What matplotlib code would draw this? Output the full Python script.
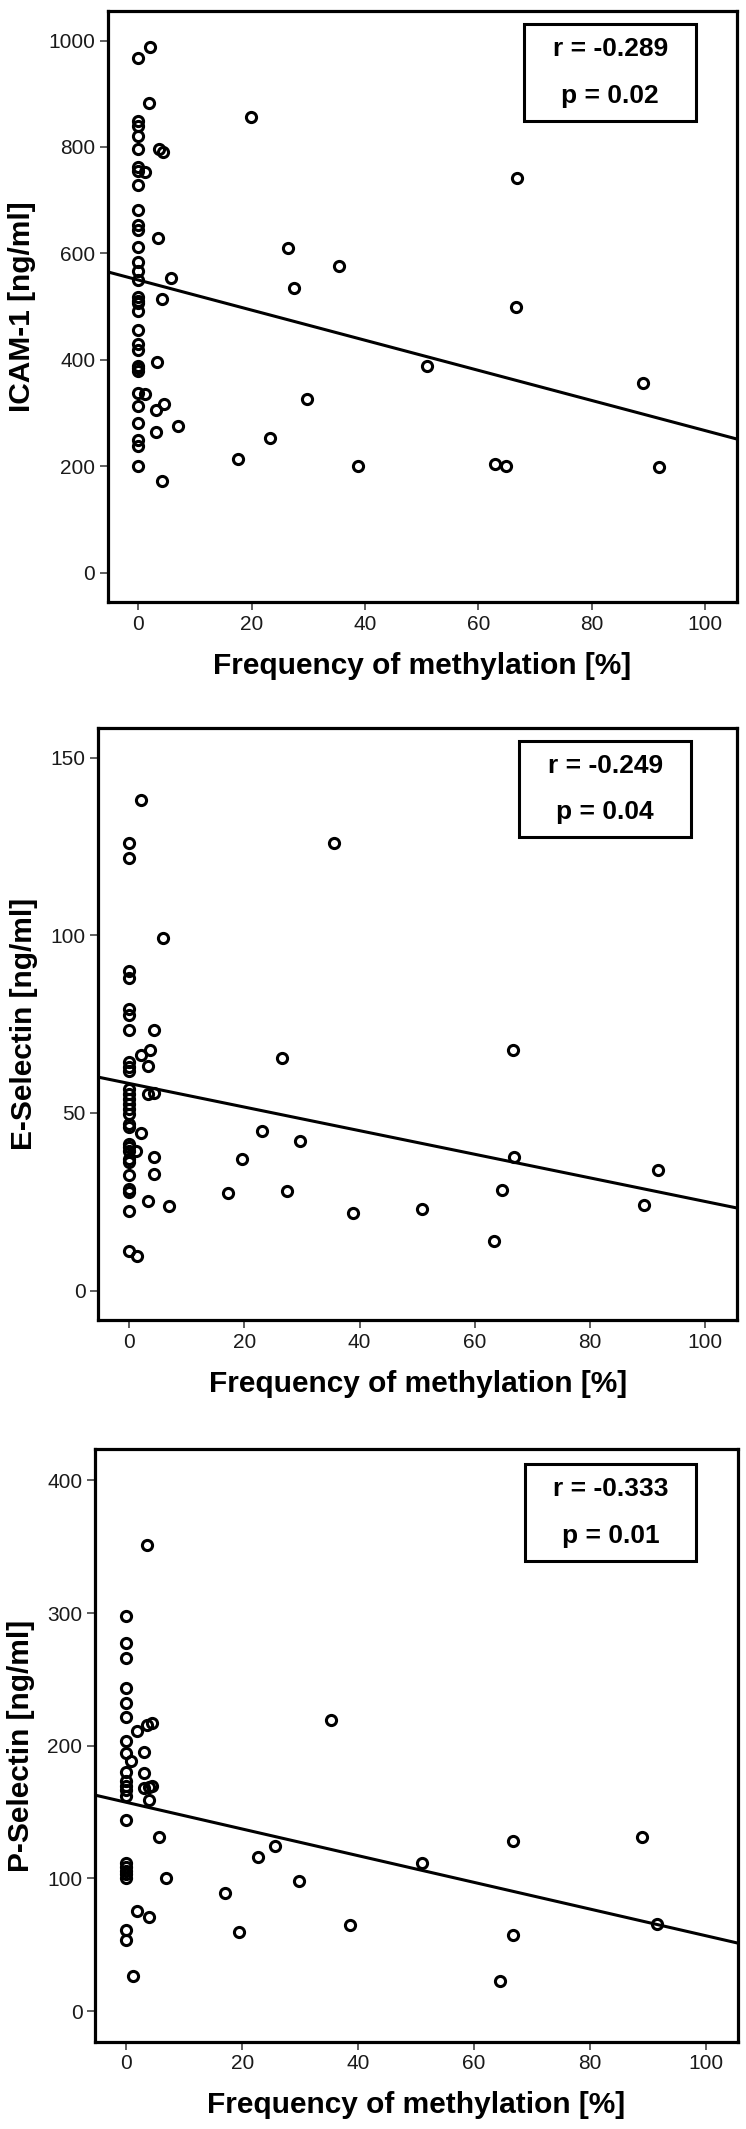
import numpy as np
import matplotlib
matplotlib.use('Agg')
import matplotlib.pyplot as plt
from matplotlib.patches import Rectangle

plt.rcParams['font.family'] = ['Liberation Sans', 'DejaVu Sans']

# ---- data ----
xlabel = 'Frequency of methylation [%]'
xticks = [0, 20, 40, 60, 80, 100]

icam_x = [0, 2.0, 1.9, 19.8, 0, 0, 0, 0, 3.6, 4.3, 0, 0, 1.2, 0, 0, 0, 0, 3.4, 0, 0,
          0, 0, 5.7, 0, 0, 0, 4.2, 0, 0, 0, 3.3, 0, 0, 0, 1.2, 0, 3.1, 4.6, 0, 7.0,
          3.1, 0, 0, 0, 4.2, 17.5, 23.2, 26.4, 35.4, 27.4, 29.8, 38.7, 51.0, 63.0, 64.8,
          66.8, 66.6, 89.1, 91.8, 0, 0]
icam_y = [967, 987, 883, 857, 849, 840, 821, 796, 797, 790, 763, 754, 753, 728, 682, 654,
          644, 629, 612, 583, 566, 550, 553, 518, 507, 492, 514, 457, 429, 419, 396, 389,
          379, 338, 335, 313, 305, 317, 281, 276, 265, 249, 238, 200, 173, 213, 254, 610,
          576, 535, 327, 200, 388, 205, 200, 742, 500, 356, 198, 510, 384]
icam_fit = (550, -2.83)   # intercept, slope
icam_stats = ['r = -0.289', 'p = 0.02']

esel_x = [0, 0, 2.1, 35.5, 5.8, 0, 0, 0, 0, 0, 4.2, 2.0, 3.6, 3.3, 0, 0, 0, 26.5, 0, 0,
          0, 0, 0, 0, 0, 0, 3.2, 4.3, 2.0, 23.0, 0, 0, 0, 0, 1.2, 4.3, 4.3, 19.5, 0, 0,
          0, 17.2, 3.2, 6.9, 0, 0, 1.3, 29.7, 27.4, 38.8, 50.9, 63.3, 64.8, 66.7, 66.8,
          89.4, 91.9, 0]
esel_y = [126.1, 121.7, 138, 126.1, 99.3, 90.1, 88.1, 79.3, 77.5, 73.4, 73.4, 66.4, 67.6,
          63.2, 64.3, 62.9, 61.8, 65.4, 56.8, 55.4, 54.0, 52.6, 51.2, 49.8, 46.9, 46.0,
          55.4, 55.6, 44.3, 45.0, 41.3, 39.4, 37.1, 36.2, 39.4, 37.6, 32.9, 37.1, 32.4,
          28.6, 27.7, 27.4, 25.2, 23.7, 22.3, 11.1, 9.6, 42.2, 28.1, 21.7, 23.0, 14.0,
          28.4, 67.7, 37.6, 24.0, 33.9, 40.5]
esel_fit = (58.3, -0.332)
esel_stats = ['r = -0.249', 'p = 0.04']

psel_x = [0, 0, 0, 0, 0, 0, 1.9, 3.6, 4.5, 0, 0, 0.9, 3.1, 0, 0, 0, 0, 0, 3.1, 3.1,
          4.0, 4.5, 4.0, 0, 5.6, 0, 0, 0, 0, 0, 6.9, 1.9, 4.0, 0, 0, 1.1, 17.1, 19.4,
          22.8, 25.7, 3.5, 35.4, 29.8, 38.7, 51.0, 64.6, 66.7, 66.8, 89.1, 91.6]
psel_y = [297.5, 277.5, 265.8, 243.8, 232.5, 222, 211, 215.8, 217.5, 203.8, 194.3, 188.8,
          195, 180, 173.8, 170, 166.3, 162.5, 179.3, 168, 168.8, 170, 159.3, 144.3, 131.3,
          112, 109, 106, 103, 100, 100, 75.5, 71.3, 60.8, 53.8, 26.8, 89.3, 60, 116.3,
          124.3, 351, 219.3, 98.3, 65.2, 111.6, 22.7, 128, 57.5, 131.5, 65.9]
psel_fit = (157.4, -1.005)
psel_stats = ['r = -0.333', 'p = 0.01']

W, H = 746.0, 2129.0

def add_panel(fig, box, xs, ys, fit, stats, ylabel, ylim, yticks, statbox):
	left, right, top, bottom = box
	ax = fig.add_axes([left / W, 1 - bottom / H, (right - left) / W, (bottom - top) / H])
	ax.plot(xs, ys, 'o', ls='none', mfc='none', mec='black', ms=7.3, mew=2.2)
	xlim = (-5.4, 105.6)
	xx = np.array(xlim)
	ax.plot(xx, fit[0] + fit[1] * xx, color='black', lw=2.2)
	ax.set_xlim(xlim)
	ax.set_ylim(ylim)
	ax.set_xticks(xticks)
	ax.set_yticks(yticks)
	for s in ax.spines.values():
		s.set_linewidth(2.3)
	ax.tick_params(direction='out', length=6, width=1.1, color='#333333',
	               labelsize=15, labelcolor='#1a1a1a', pad=3)
	ax.set_xlabel(xlabel, fontsize=21.5, fontweight='bold', labelpad=13)
	ax.set_ylabel(ylabel, fontsize=21.5, fontweight='bold', labelpad=9)
	# r / p box
	bx0, bx1, by0, by1 = statbox
	ax.add_patch(Rectangle((bx0, by0), bx1 - bx0, by1 - by0, transform=ax.transAxes,
	                       fill=False, lw=2.2, ec='black', zorder=5))
	cx = (bx0 + bx1) / 2
	ax.text(cx, by1 - 0.042, stats[0], transform=ax.transAxes, ha='center', va='center',
	        fontsize=19, fontweight='bold')
	ax.text(cx, by0 + 0.042, stats[1], transform=ax.transAxes, ha='center', va='center',
	        fontsize=19, fontweight='bold')
	return ax

fig = plt.figure(figsize=(W / 100, H / 100), dpi=100)

add_panel(fig, (107.7, 737, 10.7, 602), icam_x, icam_y, icam_fit, icam_stats,
          'ICAM-1 [ng/ml]', (-55, 1056), [0, 200, 400, 600, 800, 1000],
          (0.662, 0.935, 0.814, 0.977))
add_panel(fig, (98.3, 737, 727.7, 1320), esel_x, esel_y, esel_fit, esel_stats,
          'E-Selectin [ng/ml]', (-8.3, 158.5), [0, 50, 100, 150],
          (0.659, 0.928, 0.815, 0.977))
add_panel(fig, (95, 738, 1449.3, 2041.7), psel_x, psel_y, psel_fit, psel_stats,
          'P-Selectin [ng/ml]', (-23, 423.4), [0, 100, 200, 300, 400],
          (0.668, 0.935, 0.811, 0.975))

fig.savefig('out.png', dpi=100)
